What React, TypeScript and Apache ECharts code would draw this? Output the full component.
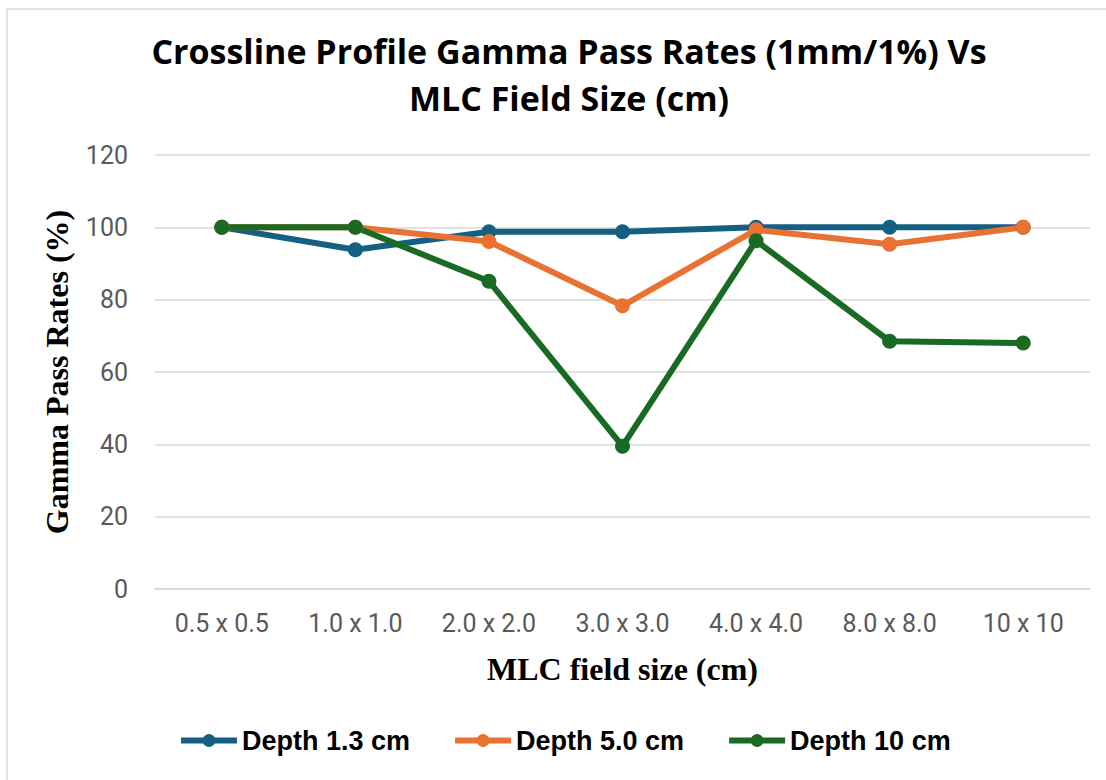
import React, { useEffect, useRef } from "react";
import * as echarts from "echarts";

const categories = ["0.5 x 0.5", "1.0 x 1.0", "2.0 x 2.0", "3.0 x 3.0", "4.0 x 4.0", "8.0 x 8.0", "10 x 10"];
const depth13 = [100, 93.8, 98.8, 98.8, 100, 100, 100];
const depth50 = [100, 100, 96.1, 78.3, 99.3, 95.3, 100];
const depth10 = [100, 100, 85.1, 39.5, 96.3, 68.5, 68.0];
const seriesNames = ["Depth 1.3 cm", "Depth 5.0 cm", "Depth 10 cm"];
const colors = ["#156082", "#E97132", "#196B24"];

export default function App() {
  const ref = useRef<HTMLDivElement>(null);
  useEffect(() => {
    document.body.style.margin = "0";
    const chart = echarts.init(ref.current!, null, { renderer: "svg" });
    const mk = (name: string, data: number[], color: string) => ({
      name,
      type: "line",
      data,
      symbol: "circle",
      symbolSize: 15,
      lineStyle: { width: 6, color },
      itemStyle: { color },
      emphasis: { disabled: true },
    });
    chart.setOption({
      animation: false,
      backgroundColor: "#ffffff",
      color: colors,
      title: {
        text: "Crossline Profile Gamma Pass Rates (1mm/1%) Vs\nMLC Field Size (cm)",
        left: 564,
        textAlign: "center",
        top: 22,
        textStyle: {
          fontFamily: "'Open Sans', sans-serif",
          fontWeight: 700,
          fontSize: 34,
          lineHeight: 47,
          color: "#000000",
        },
      },
      graphic: [
        {
          type: "rect",
          shape: { x: 7, y: 9, width: 1130, height: 800 },
          style: { fill: "none", stroke: "#d9d9d9", lineWidth: 1.5 },
          silent: true,
        },
      ],
      grid: { left: 155, right: 16, top: 155, bottom: 191, containLabel: false },
      legend: {
        data: seriesNames,
        left: 173,
        top: 722,
        itemWidth: 56,
        itemHeight: 16,
        itemGap: 42,
        lineStyle: { width: 6 },
        textStyle: {
          fontFamily: "'Liberation Sans', Arial, sans-serif",
          fontWeight: "bold",
          fontSize: 27,
          color: "#000000",
        },
      },
      xAxis: {
        type: "category",
        data: categories,
        boundaryGap: true,
        axisLine: { show: true, lineStyle: { color: "#d9d9d9", width: 1.5 } },
        axisTick: { show: false },
        axisLabel: {
          margin: 22,
          fontFamily: "Roboto, sans-serif",
          fontSize: 25,
          color: "#595959",
        },
        name: "MLC field size (cm)",
        nameLocation: "middle",
        nameGap: 64,
        nameTextStyle: {
          fontFamily: "'Liberation Serif', 'Times New Roman', serif",
          fontWeight: "bold",
          fontSize: 32,
          color: "#000000",
        },
      },
      yAxis: {
        type: "value",
        min: 0,
        max: 120,
        interval: 20,
        axisLine: { show: false },
        axisTick: { show: false },
        splitLine: { show: true, lineStyle: { color: "#d9d9d9", width: 1.5 } },
        axisLabel: {
          margin: 27,
          fontFamily: "Roboto, sans-serif",
          fontSize: 25,
          color: "#595959",
        },
        name: "Gamma Pass Rates (%)",
        nameLocation: "middle",
        nameGap: 82,
        nameTextStyle: {
          fontFamily: "'Liberation Serif', 'Times New Roman', serif",
          fontWeight: "bold",
          fontSize: 32,
          color: "#000000",
        },
      },
      series: [
        mk(seriesNames[0], depth13, colors[0]),
        mk(seriesNames[1], depth50, colors[1]),
        mk(seriesNames[2], depth10, colors[2]),
      ],
    });
    return () => chart.dispose();
  }, []);
  return <div ref={ref} style={{ width: 1106, height: 780 }} />;
}
